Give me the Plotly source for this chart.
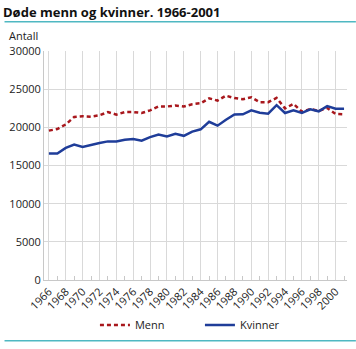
import plotly.graph_objects as go

# Deaths per year in Norway, men and women
years = list(range(1966, 2002))
menn = [19570, 19780, 20380, 21360, 21450, 21400, 21580, 22000, 21670, 22000,
        22000, 21880, 22220, 22730, 22730, 22860, 22730, 23030, 23160, 23800,
        23500, 24150, 23830, 23680, 23930, 23290, 23290, 23850, 22480, 23080,
        22050, 22400, 22160, 22540, 21750, 21710]
kvinner = [16580, 16580, 17300, 17730, 17430, 17730, 17950, 18160, 18160, 18380,
           18460, 18250, 18720, 19060, 18800, 19140, 18890, 19440, 19740, 20730,
           20220, 21000, 21690, 21700, 22220, 21920, 21790, 22900, 21880, 22220,
           21880, 22350, 22100, 22780, 22440, 22440]
x_ticks = list(range(1966, 2001, 2))
y_ticks = [0, 5000, 10000, 15000, 20000, 25000, 30000]

W, H = 356, 349
L, R, T, B = 40, 9, 51, 64
pw, ph = W - L - R, H - T - B

def px_x(p):
    return (p - L) / pw

def px_y(p):
    return (H - B - p) / ph

font = "Open Sans"
teal = "#4fb8c2"

fig = go.Figure()
fig.add_trace(go.Scatter(
    x=years, y=menn, name="Menn", mode="lines",
    line=dict(color="#a8171c", width=2.5, dash="4px,3px"),
))
fig.add_trace(go.Scatter(
    x=years, y=kvinner, name="Kvinner", mode="lines",
    line=dict(color="#1f3d99", width=2.5),
))

fig.update_layout(
    width=W, height=H,
    margin=dict(l=L, r=R, t=T, b=B, pad=0),
    paper_bgcolor="white", plot_bgcolor="white",
    font=dict(family=font, size=11, color="#222222"),
    title=dict(
        text="<b>Døde menn og kvinner. 1966-2001</b>",
        x=3 / W, xref="container", xanchor="left",
        y=1 - 12 / H, yref="container", yanchor="middle",
        font=dict(family=font, size=13, color="#111111"),
    ),
    xaxis=dict(
        range=[1965.42, 2001.35],
        tickvals=x_ticks, ticktext=[str(v) for v in x_ticks],
        tickangle=-45, showgrid=True, gridcolor="#d9d9d9", gridwidth=1,
        showline=True, linecolor="#c8c8c8", linewidth=1,
        ticks="", zeroline=False,
        minor=dict(tickvals=list(range(1967, 2002, 2)), ticks="inside",
                   ticklen=4, tickcolor="#c8c8c8", showgrid=False),
        tickfont=dict(size=11),
    ),
    yaxis=dict(
        range=[0, 30000], tickvals=y_ticks, tickformat="d",
        showgrid=True, gridcolor="#d9d9d9", gridwidth=1,
        showline=True, linecolor="#c8c8c8", linewidth=1,
        ticks="", zeroline=False, tickfont=dict(size=11),
    ),
    legend=dict(
        orientation="h", x=px_x(198), xanchor="center",
        y=px_y(331), yanchor="middle",
        font=dict(size=11), itemwidth=30, bgcolor="rgba(0,0,0,0)",
        entrywidth=60, entrywidthmode="pixels",
    ),
    showlegend=True,
)

fig.add_annotation(
    text="Antall", xref="paper", yref="paper",
    x=px_x(3), y=px_y(35), xanchor="left", yanchor="middle",
    showarrow=False, font=dict(size=11, color="#222222"),
)

for ypix in (21, 347):
    fig.add_shape(
        type="line", xref="paper", yref="paper",
        x0=px_x(0), x1=px_x(W), y0=px_y(ypix), y1=px_y(ypix),
        line=dict(color=teal, width=1.5),
    )

fig.write_html("out.html")
